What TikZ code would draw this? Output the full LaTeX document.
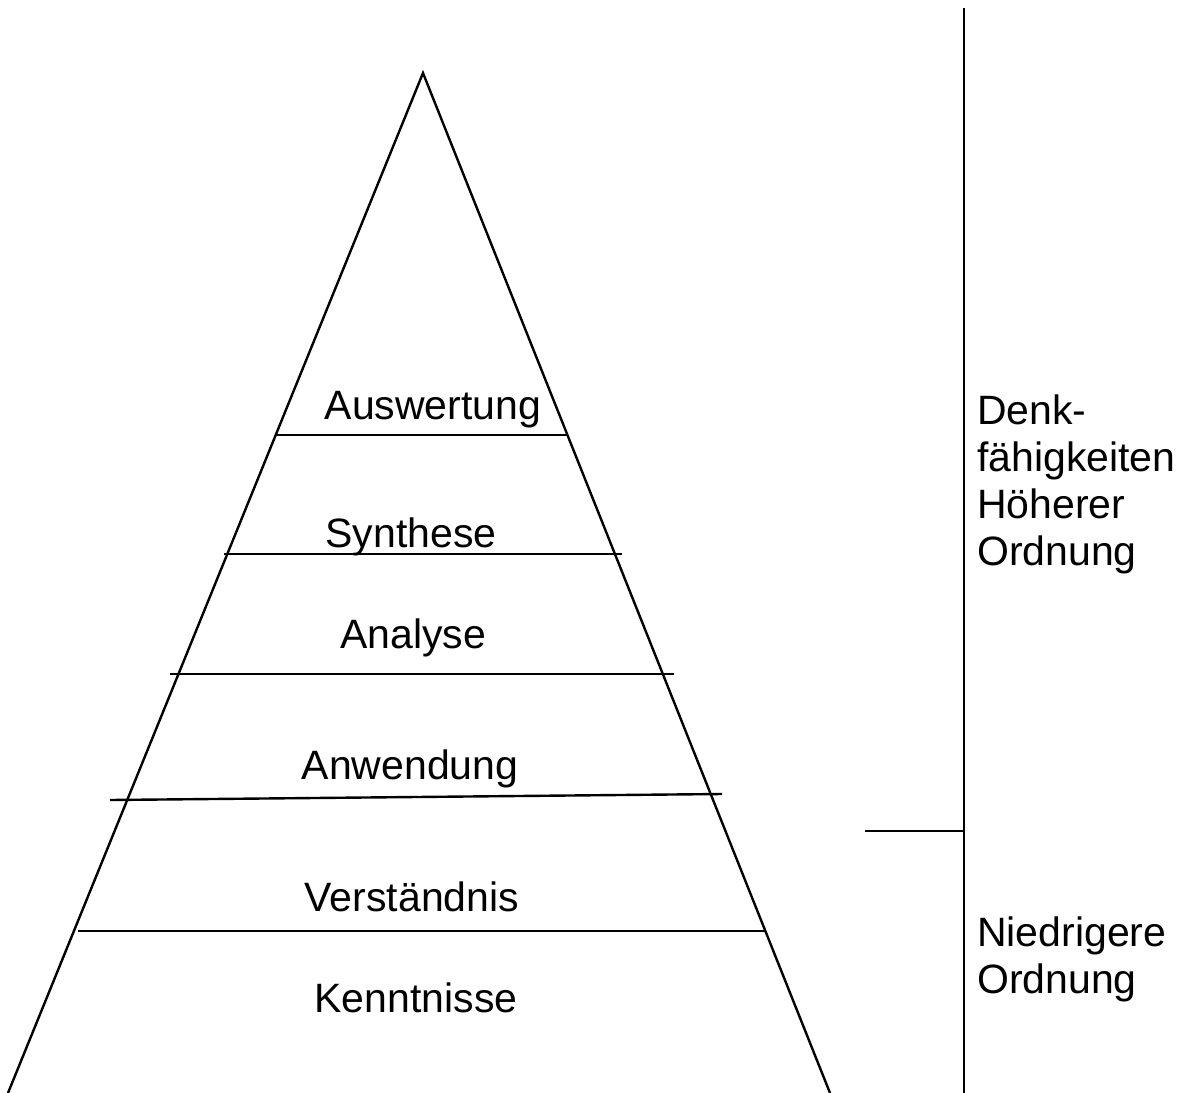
\documentclass[tikz,border=0pt]{standalone}
\usepackage{fontspec}
\setmainfont{Liberation Sans}
\usepackage{tikz}

\begin{document}
\begin{tikzpicture}[
  x=0.5pt, y=-0.5pt,
  line width=1.2pt,
  level/.style={anchor=base, inner sep=0pt, font=\fontsize{20.5}{23.4}\selectfont},
  side/.style={anchor=base west, inner sep=0pt, align=left, font=\fontsize{20.5}{23.4}\selectfont}
]
\useasboundingbox (0,0) rectangle (1179,1093);
\clip (0,0) rectangle (1179,1093);

\coordinate (apex) at (423,73);
\coordinate (bl) at (8,1093);
\coordinate (br) at (830,1093);
\draw (bl) -- (apex) -- (br);

\draw (277,435) -- (568,435);
\draw (224,554) -- (622,554);
\draw (170,674) -- (674,674);
\draw (110,800) -- (722,794);
\draw (78,931) -- (766,931);

\node[level] (auswertung) at (433,419) {Auswertung};
\node[level] (synthese) at (411,547) {Synthese};
\node[level] (analyse) at (413,648) {Analyse};
\node[level] (anwendung) at (410,779) {Anwendung};
\node[level] (verstaendnis) at (412,911) {Verständnis};
\node[level] (kenntnisse) at (416,1012) {Kenntnisse};

\coordinate (top) at (964,8);
\coordinate (bottom) at (964,1093);
\coordinate (split) at (964,831);
\coordinate (tick) at (865,831);
\draw (top) -- (bottom);
\draw (tick) -- (split);

\node[side] (hoehere) at (976,565) {Denk-\\fähigkeiten\\Höherer\\Ordnung};
\node[side] (niedrige) at (976,993) {Niedrigere\\Ordnung};
\end{tikzpicture}
\end{document}
